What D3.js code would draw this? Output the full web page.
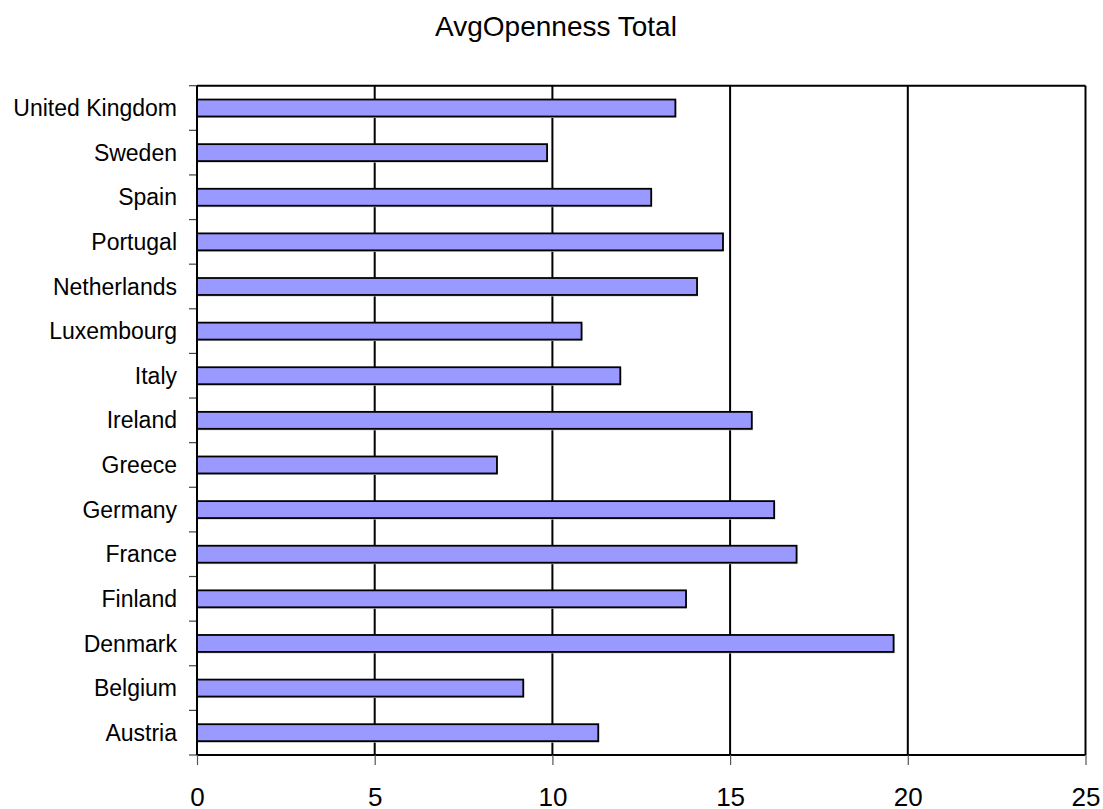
<!DOCTYPE html>
<html>
<head>
<meta charset="utf-8">
<script src="https://cdn.jsdelivr.net/npm/d3@7/dist/d3.min.js"></script>
<style>
  html, body { margin: 0; padding: 0; background: #fff; }
  svg { display: block; font-family: "Liberation Sans", Arial, sans-serif; }
</style>
</head>
<body>
<svg id="chart" width="1103" height="809"></svg>
<script>
// Countries, listed bottom to top as they appear on the axis
const countries = [
  "Austria", "Belgium", "Denmark", "Finland", "France", "Germany", "Greece",
  "Ireland", "Italy", "Luxembourg", "Netherlands", "Portugal", "Spain",
  "Sweden", "United Kingdom"
];
const avgOpenness = [
  11.29, 9.18, 19.60, 13.76, 16.87, 16.24, 8.44,
  15.61, 11.91, 10.82, 14.07, 14.80, 12.78, 9.85, 13.46
];
const xTicks = [0, 5, 10, 15, 20, 25];
const chartTitle = "AvgOpenness Total";

const data = countries.map((c, i) => ({ country: c, value: avgOpenness[i] }));

const svg = d3.select("#chart");
const plot = { left: 197, right: 1085.5, top: 85.7, bottom: 755 };

const x = d3.scaleLinear()
  .domain([xTicks[0], xTicks[xTicks.length - 1]])
  .range([plot.left, plot.right]);

// top of the axis is the last country in the list
const y = d3.scaleBand()
  .domain(countries.slice().reverse())
  .range([plot.top, plot.bottom])
  .padding(0);

const barFrac = 0.38;
const barH = y.bandwidth() * barFrac;

// Title
svg.append("text")
  .attr("x", 556)
  .attr("y", 36)
  .attr("text-anchor", "middle")
  .attr("font-size", 28)
  .attr("fill", "#000")
  .text(chartTitle);

// Vertical gridlines
svg.append("g")
  .selectAll("line")
  .data(xTicks.slice(1))
  .join("line")
  .attr("x1", d => x(d)).attr("x2", d => x(d))
  .attr("y1", plot.top).attr("y2", plot.bottom)
  .attr("stroke", "#000")
  .attr("stroke-width", 2);

// Top border of the plot area
svg.append("line")
  .attr("x1", plot.left).attr("x2", plot.right)
  .attr("y1", plot.top).attr("y2", plot.top)
  .attr("stroke", "#000").attr("stroke-width", 2);

// Bars with a faint drop shadow
const bars = svg.append("g");
bars.selectAll("rect.shadow")
  .data(data)
  .join("rect")
  .attr("class", "shadow")
  .attr("x", x(0) + 1)
  .attr("y", d => y(d.country) + (y.bandwidth() - barH) / 2 + 1.5)
  .attr("width", d => x(d.value) - x(0))
  .attr("height", barH)
  .attr("fill", "#c8c8c8");

bars.selectAll("rect.bar")
  .data(data)
  .join("rect")
  .attr("class", "bar")
  .attr("x", x(0))
  .attr("y", d => y(d.country) + (y.bandwidth() - barH) / 2)
  .attr("width", d => x(d.value) - x(0))
  .attr("height", barH)
  .attr("fill", "#9999ff")
  .attr("stroke", "#000")
  .attr("stroke-width", 1.8);

// Category axis: ticks sit on the band boundaries
const yAxis = svg.append("g");
const boundaries = countries.map(c => y(c)).concat([plot.bottom]);
yAxis.selectAll("line.tick")
  .data(boundaries)
  .join("line")
  .attr("class", "tick")
  .attr("x1", plot.left - 8).attr("x2", plot.left)
  .attr("y1", d => d).attr("y2", d => d)
  .attr("stroke", "#444").attr("stroke-width", 1.2);
yAxis.append("line")
  .attr("x1", plot.left).attr("x2", plot.left)
  .attr("y1", plot.top).attr("y2", plot.bottom)
  .attr("stroke", "#000").attr("stroke-width", 2);
yAxis.selectAll("text")
  .data(countries)
  .join("text")
  .attr("x", plot.left - 20)
  .attr("y", d => y(d) + y.bandwidth() / 2)
  .attr("dy", "0.35em")
  .attr("text-anchor", "end")
  .attr("font-size", 23)
  .attr("fill", "#000")
  .text(d => d);

// Value axis along the bottom
const xAxis = svg.append("g")
  .attr("transform", `translate(0,${plot.bottom})`)
  .call(d3.axisBottom(x).tickValues(xTicks).tickSize(10).tickPadding(23).tickFormat(d3.format("d")));
xAxis.select(".domain")
  .attr("d", `M${plot.left},0H${plot.right}`)
  .attr("stroke", "#000").attr("stroke-width", 2);
xAxis.selectAll(".tick line").attr("stroke", "#555").attr("stroke-width", 1.2);
xAxis.selectAll(".tick text")
  .attr("font-size", 26)
  .attr("font-family", "Liberation Sans, Arial, sans-serif")
  .attr("fill", "#000");
</script>
</body>
</html>
